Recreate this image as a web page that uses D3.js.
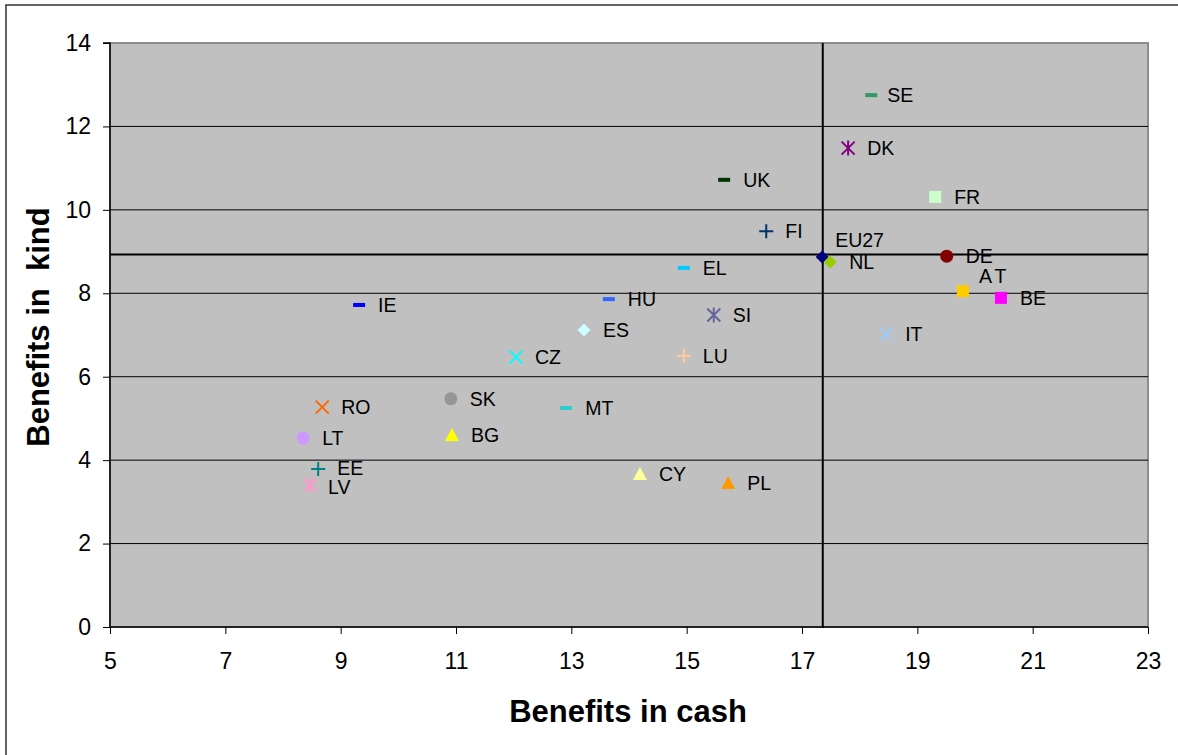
<!DOCTYPE html>
<html>
<head>
<meta charset="utf-8">
<script src="https://cdn.jsdelivr.net/npm/d3@7/dist/d3.min.js"></script>
<style>
  html, body { margin: 0; padding: 0; background: #fff; }
  svg { display: block; font-family: "Liberation Sans", Arial, sans-serif; }
</style>
</head>
<body>
<svg id="chart" width="1178" height="755"></svg>
<script>
// Country codes and social protection benefits (% of GDP)
const countries = ["SE","DK","FR","UK","FI","EU27","NL","DE","AT","BE","IT","EL","HU","SI","ES","IE","CZ","LU","RO","SK","MT","LT","BG","EE","LV","CY","PL"];
const cashValues = [18.20,17.80,19.31,15.65,16.38,17.35,17.49,19.51,19.79,20.45,18.46,14.95,13.65,15.47,13.22,9.32,12.04,14.95,8.68,10.91,12.91,8.35,10.93,8.61,8.47,14.19,15.72];
const kindValues = [12.75,11.48,10.31,10.72,9.49,8.87,8.75,8.89,8.05,7.89,7.02,8.61,7.86,7.48,7.12,7.72,6.47,6.50,5.27,5.47,5.25,4.53,4.60,3.79,3.40,3.67,3.45];
const markerShapes = ["dash","star","square","dash","plus","diamond","diamond","circle","square","square","cross","dash","dash","star","diamond","dash","cross","plus","cross","circle","dash","circle","triangle","plus","star","triangle","triangle"];
const markerColors = ["#339966","#800080","#CCFFCC","#003300","#003366","#000080","#99CC00","#800000","#FFCC00","#FF00FF","#99CCFF","#00CCFF","#3366FF","#666699","#CCFFFF","#0000FF","#00FFFF","#FFCC99","#FF6600","#969696","#33CCCC","#CC99FF","#FFFF00","#008080","#FF99CC","#FFFF99","#FF9900"];
const xTicks = [5,7,9,11,13,15,17,19,21,23];
const yTicks = [0,2,4,6,8,10,12,14];
// Reference lines at the EU27 averages
const meanCash = 17.36;
const meanKind = 8.93;

const svg = d3.select("#chart");
const W = 1178, H = 755;
const plot = { left: 110, right: 1148, top: 43, bottom: 627 };

// outer frame
svg.append("rect").attr("x", 6).attr("y", 5).attr("width", W + 10).attr("height", H + 10)
  .attr("fill", "#fff").attr("stroke", "#333").attr("stroke-width", 1.5);

const x = d3.scaleLinear().domain([5, 23]).range([plot.left, plot.right]);
const y = d3.scaleLinear().domain([0, 14]).range([plot.bottom, plot.top]);

// plot area
svg.append("rect").attr("x", plot.left).attr("y", plot.top)
  .attr("width", plot.right - plot.left).attr("height", plot.bottom - plot.top)
  .attr("fill", "#C0C0C0").attr("stroke", "#8c8c8c").attr("stroke-width", 2);

// horizontal grid
svg.append("g").selectAll("line").data(yTicks.filter(t => t > 0 && t < 14)).join("line")
  .attr("x1", plot.left).attr("x2", plot.right)
  .attr("y1", d => y(d)).attr("y2", d => y(d))
  .attr("stroke", "#000").attr("stroke-width", 1);

// axes
const yAxis = d3.axisLeft(y).tickValues(yTicks).tickSize(7).tickPadding(12).tickFormat(d3.format("d"));
const xAxis = d3.axisBottom(x).tickValues(xTicks).tickSize(7).tickPadding(19).tickFormat(d3.format("d"));

const gy = svg.append("g").attr("transform", `translate(${plot.left},0)`).call(yAxis);
const gx = svg.append("g").attr("transform", `translate(0,${plot.bottom})`).call(xAxis);
[gy, gx].forEach(g => {
  g.attr("font-size", 23).attr("font-family", '"Liberation Sans", Arial, sans-serif');
  g.select(".domain").attr("stroke", "#000").attr("stroke-width", 1.5);
  g.selectAll(".tick line").attr("stroke", "#000").attr("stroke-width", 1);
  g.selectAll(".tick text").attr("fill", "#000").style("font-size", "23px");
});
gy.select(".domain").attr("d", `M-7,${plot.top}H0V${plot.bottom}`);
gx.select(".domain").attr("d", `M${plot.left},0H${plot.right}`);

// average lines
svg.append("line").attr("x1", plot.left).attr("x2", plot.right)
  .attr("y1", y(meanKind)).attr("y2", y(meanKind))
  .attr("stroke", "#000").attr("stroke-width", 2);
svg.append("line").attr("x1", x(meanCash)).attr("x2", x(meanCash))
  .attr("y1", plot.top).attr("y2", plot.bottom + 1)
  .attr("stroke", "#000").attr("stroke-width", 2);

// markers
function drawMarker(g, shape, color) {
  switch (shape) {
    case "dash":
      g.append("rect").attr("x", -6).attr("y", -2).attr("width", 12).attr("height", 4).attr("fill", color); break;
    case "square":
      g.append("rect").attr("x", -6).attr("y", -6).attr("width", 12).attr("height", 12).attr("fill", color); break;
    case "diamond":
      g.append("path").attr("d", "M0,-6.5L6.5,0L0,6.5L-6.5,0Z").attr("fill", color); break;
    case "circle":
      g.append("circle").attr("r", 6.5).attr("fill", color); break;
    case "triangle":
      g.append("path").attr("d", "M0,-7L7,6L-7,6Z").attr("fill", color); break;
    case "plus":
      g.append("path").attr("d", "M-7,0H7M0,-7V7").attr("stroke", color).attr("stroke-width", 2).attr("fill", "none"); break;
    case "cross":
      g.append("path").attr("d", "M-6.5,-6.5L6.5,6.5M-6.5,6.5L6.5,-6.5").attr("stroke", color).attr("stroke-width", 2).attr("fill", "none"); break;
    case "star":
      g.append("path").attr("d", "M-6.5,-6.5L6.5,6.5M-6.5,6.5L6.5,-6.5M0,-7.5V7.5").attr("stroke", color).attr("stroke-width", 2).attr("fill", "none"); break;
  }
}

const data = countries.map((c, i) => ({ c, cash: cashValues[i], kind: kindValues[i], shape: markerShapes[i], color: markerColors[i] }));

const pts = svg.append("g");
data.forEach(d => {
  const g = pts.append("g").attr("transform", `translate(${x(d.cash)},${y(d.kind)})`);
  drawMarker(g, d.shape, d.color);
});

// label offsets (dx, dy) relative to the marker
const labelOffset = { EU27: [13, -17], AT: [16, -15], EE: [19, -1], LV: [18, 2], SE: [16, 0] };
const labels = svg.append("g");
data.forEach(d => {
  const off = labelOffset[d.c] || [19, 0];
  labels.append("text")
    .attr("x", x(d.cash) + off[0]).attr("y", y(d.kind) + off[1])
    .attr("dy", "0.36em")
    .attr("font-size", 19.5).attr("fill", "#000")
    .attr("letter-spacing", d.c === "AT" ? 4 : 0)
    .text(d.c);
});

// axis titles
svg.append("text").attr("x", 628).attr("y", 722).attr("text-anchor", "middle")
  .attr("font-size", 31).attr("font-weight", "bold").text("Benefits in cash");
svg.append("text").attr("transform", "translate(49,327) rotate(-90)").attr("text-anchor", "middle")
  .attr("font-size", 31).attr("font-weight", "bold").attr("xml:space", "preserve")
  .style("white-space", "pre").text("Benefits in  kind");
</script>
</body>
</html>
